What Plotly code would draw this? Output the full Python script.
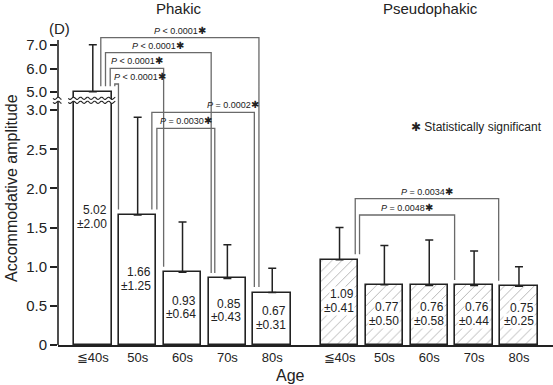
import math
import plotly.graph_objects as go

# ---------------- data ----------------
AGE_LABELS = ["≦40s", "50s", "60s", "70s", "80s"]
PHAKIC_MEAN = [5.02, 1.66, 0.93, 0.85, 0.67]
PHAKIC_SD = [2.00, 1.25, 0.64, 0.43, 0.31]
PSEUDO_MEAN = [1.09, 0.77, 0.76, 0.76, 0.75]
PSEUDO_SD = [0.41, 0.50, 0.58, 0.44, 0.25]
Y_TICKS = [0, 0.5, 1.0, 1.5, 2.0, 2.5, 3.0, 5.0, 6.0, 7.0]
Y_TICK_TEXT = ["0", "0.5", "1.0", "1.5", "2.0", "2.5", "3.0", "5.0", "6.0", "7.0"]
PHAKIC_TESTS = [(0, 4, "<", "0.0001"), (0, 3, "<", "0.0001"), (0, 2, "<", "0.0001"),
                (0, 1, "<", "0.0001"), (1, 4, "=", "0.0002"), (1, 3, "=", "0.0030")]
PSEUDO_TESTS = [(0, 4, "=", "0.0034"), (0, 3, "=", "0.0048")]

# ---------------- layout constants ----------------
W, H = 553, 385
ML, MR, MT, MB = 58, 0, 0, 40
PLOT_W = W - ML - MR
PLOT_H = H - MT - MB
PX_PER_UNIT = 78.3          # lower segment scale
LOW_MAX = 3.0
BREAK_GAP_PX = 18.0         # 3.0 -> 5.0 distance in px
UPPER_PX_PER_UNIT = 23.5    # upper segment scale
YMAX = PLOT_H / PX_PER_UNIT
SLOT_PX = 44.86
XMIN = -(92.8 - ML) / SLOT_PX
XMAX = XMIN + PLOT_W / SLOT_PX
BAR_W = 37.5 / SLOT_PX
FONT = "Liberation Sans, Arial, Helvetica, sans-serif"
INK = "#222222"
BRACKET_COLOR = "#6a6a6a"


def disp(v):
    if v <= LOW_MAX:
        return v
    return LOW_MAX + (BREAK_GAP_PX + (v - 5.0) * UPPER_PX_PER_UNIT) / PX_PER_UNIT


def x_to_px(x):
    return ML + (x - XMIN) * SLOT_PX


def pxx(px):
    return (px - ML) / PLOT_W


def pxy(py):
    return (MT + PLOT_H - py) / PLOT_H


def py_to_disp(py):
    return (MT + PLOT_H - py) / PX_PER_UNIT


pos_ph = [float(i) for i in range(5)]
pos_ps = [5.5 + i for i in range(5)]

fig = go.Figure()

fig.add_trace(go.Bar(
    x=pos_ph, y=[disp(m) for m in PHAKIC_MEAN], width=BAR_W,
    marker=dict(color="white", line=dict(color=INK, width=1.6)),
    error_y=dict(type="data", symmetric=False,
                 array=[disp(m + s) - disp(m) for m, s in zip(PHAKIC_MEAN, PHAKIC_SD)],
                 arrayminus=[0] * 5, color=INK, thickness=1.5, width=4),
    showlegend=False, hoverinfo="skip"))

fig.add_trace(go.Bar(
    x=pos_ps, y=[disp(m) for m in PSEUDO_MEAN], width=BAR_W,
    marker=dict(color="white", line=dict(color=INK, width=1.6),
                pattern=dict(shape="/", fgcolor="#555555", bgcolor="white", size=7, solidity=0.12)),
    error_y=dict(type="data", symmetric=False,
                 array=[disp(m + s) - disp(m) for m, s in zip(PSEUDO_MEAN, PSEUDO_SD)],
                 arrayminus=[0] * 5, color=INK, thickness=1.5, width=4),
    showlegend=False, hoverinfo="skip"))

annotations = []
shapes = []

# value labels inside bars
for positions, means, sds, bg in ((pos_ph, PHAKIC_MEAN, PHAKIC_SD, None),
                                  (pos_ps, PSEUDO_MEAN, PSEUDO_SD, "white")):
    for x, m, s in zip(positions, means, sds):
        yc = disp(m) / 2 + 0.015
        for txt, shift in ((f"{m:.2f}", 6.9), (f"±{s:.2f}", -6.9)):
            a = dict(x=x + BAR_W / 2, y=yc, xref="x", yref="y", text=txt,
                     showarrow=False, xanchor="right", yanchor="middle",
                     xshift=-3, yshift=shift, font=dict(family=FONT, size=12, color=INK))
            if bg:
                a.update(bgcolor=bg, borderpad=0)
            annotations.append(a)

# significance brackets: (top px, left offset px, right offset px, text mode)
PH_BRACKET_LAYOUT = [(37.7, 8.0, -13.3, "c"), (52.7, 12.7, -16.2, "c"),
                     (68.3, 17.4, -18.9, "c"), (84.0, 22.0, -19.2, "l"),
                     (112.3, 14.2, -17.9, "r"), (128.3, 19.2, -12.6, "c")]
PS_BRACKET_LAYOUT = [(198.7, 15.7, -20.3, "c"), (215.0, 20.0, -19.5, "c")]
END_GAP = 5.5 / PX_PER_UNIT

for positions, means, tests, lay in ((pos_ph, PHAKIC_MEAN, PHAKIC_TESTS, PH_BRACKET_LAYOUT),
                                     (pos_ps, PSEUDO_MEAN, PSEUDO_TESTS, PS_BRACKET_LAYOUT)):
    for (i, j, op, val), (top_px, lo, ro, mode) in zip(tests, lay):
        xl = positions[i] + lo / SLOT_PX
        xr = positions[j] + ro / SLOT_PX
        yt = py_to_disp(top_px)
        yl = disp(means[i]) + END_GAP
        yr = disp(means[j]) + END_GAP
        shapes.append(dict(type="path", xref="x", yref="y",
                           path=f"M {xl},{yl} L {xl},{yt} L {xr},{yt} L {xr},{yr}",
                           line=dict(color=BRACKET_COLOR, width=1.3)))
        txt = f"<i>P</i> {op} {val}<span style='font-size:10px'>✱</span>"
        if mode == "c":
            ax, anc, xs = (xl + xr) / 2, "center", 0
        elif mode == "l":
            ax, anc, xs = xl, "left", -3
        else:
            ax, anc, xs = xr, "right", 7
        annotations.append(dict(x=ax, y=yt, xref="x", yref="y", text=txt, showarrow=False,
                                xanchor=anc, yanchor="bottom", xshift=xs, yshift=0,
                                font=dict(family=FONT, size=9, color=INK)))

# y axis line (drawn manually to allow break)
shapes.append(dict(type="line", xref="paper", yref="y", x0=0, x1=0, y0=0,
                   y1=py_to_disp(40), line=dict(color=INK, width=1.6)))

# axis break (wavy lines)
y_low = disp(LOW_MAX) + 7.8 / PX_PER_UNIT
y_high = disp(LOW_MAX) + 11.8 / PX_PER_UNIT
py_low = MT + PLOT_H - y_low * PX_PER_UNIT
py_high = MT + PLOT_H - y_high * PX_PER_UNIT


def wave(a, b, base):
    pts = []
    n = int((b - a) / 0.5) + 1
    for k in range(n + 1):
        x = a + (b - a) * k / n
        y = base + 1.1 * math.sin(2 * math.pi * (x - a) / 7.0)
        pts.append((pxx(x), pxy(y)))
    return pts


c0 = x_to_px(pos_ph[0])
for a, b in ((ML - 5, ML + 3.5), (c0 - 24.5, c0 + 22.5)):
    top = wave(a, b, py_high)
    bot = wave(a, b, py_low)
    poly = top + bot[::-1]
    path = "M " + " L ".join(f"{x},{y}" for x, y in poly) + " Z"
    shapes.append(dict(type="path", xref="paper", yref="paper", path=path,
                       fillcolor="white", line=dict(width=0)))
    for w in (top, bot):
        shapes.append(dict(type="path", xref="paper", yref="paper",
                           path="M " + " L ".join(f"{x},{y}" for x, y in w),
                           line=dict(color=INK, width=1.1)))

# texts
annotations += [
    dict(x=pxx(179), y=pxy(8.5), xref="paper", yref="paper", text="Phakic", showarrow=False,
         xanchor="center", yanchor="middle", font=dict(family=FONT, size=15, color=INK)),
    dict(x=pxx(430), y=pxy(8.5), xref="paper", yref="paper", text="Pseudophakic", showarrow=False,
         xanchor="center", yanchor="middle", font=dict(family=FONT, size=15, color=INK)),
    dict(x=pxx(59), y=pxy(28), xref="paper", yref="paper", text="(D)", showarrow=False,
         xanchor="center", yanchor="middle", font=dict(family=FONT, size=15, color=INK)),
    dict(x=pxx(476), y=pxy(127), xref="paper", yref="paper", text="✱ Statistically significant",
         showarrow=False, xanchor="center", yanchor="middle",
         font=dict(family=FONT, size=12, color=INK)),
    dict(x=pxx(290), y=pxy(375), xref="paper", yref="paper", text="Age", showarrow=False,
         xanchor="center", yanchor="middle", font=dict(family=FONT, size=16, color=INK)),
    dict(x=pxx(11), y=pxy(188), xref="paper", yref="paper", text="Accommodative amplitude",
         showarrow=False, textangle=-90, xanchor="center", yanchor="middle",
         font=dict(family=FONT, size=16, color=INK)),
]

fig.update_layout(
    width=W, height=H, margin=dict(l=ML, r=MR, t=MT, b=MB, pad=0),
    paper_bgcolor="white", plot_bgcolor="white", bargap=0,
    font=dict(family=FONT, color=INK),
    xaxis=dict(range=[XMIN, XMAX], showline=True, linecolor=INK, linewidth=1.6,
               tickvals=pos_ph + pos_ps, ticktext=AGE_LABELS + AGE_LABELS, ticks="",
               tickfont=dict(family=FONT, size=13, color=INK), showgrid=False, zeroline=False,
               fixedrange=True),
    yaxis=dict(range=[0, YMAX], showline=False, showgrid=False, zeroline=False,
               tickvals=[disp(v) for v in Y_TICKS], ticktext=Y_TICK_TEXT, ticks="outside",
               ticklen=7, tickwidth=1.5, tickcolor=INK,
               tickfont=dict(family=FONT, size=15, color=INK), fixedrange=True),
    shapes=shapes, annotations=annotations,
)

fig.write_html("out.html", config={"displayModeBar": False},
               post_script="document.body.style.margin='0';document.body.style.overflow='hidden';")
